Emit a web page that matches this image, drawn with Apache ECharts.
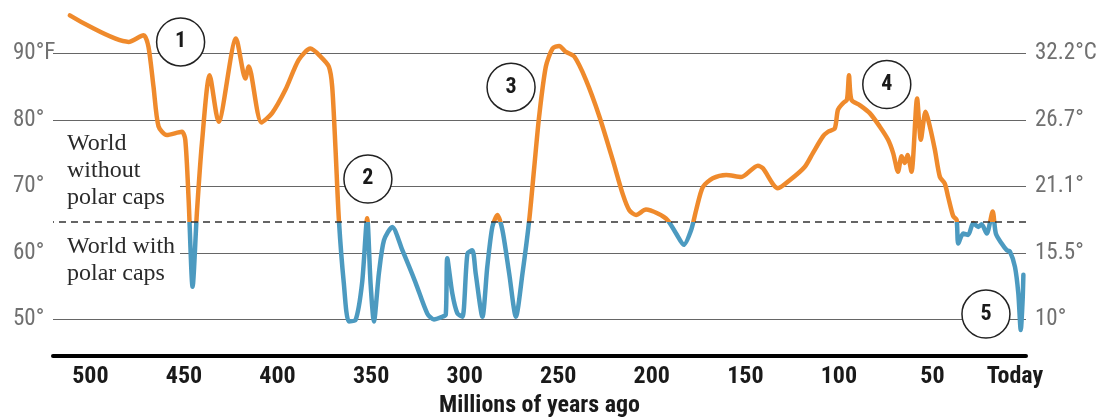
<!DOCTYPE html>
<html><head><meta charset="utf-8">
<script src="https://cdn.jsdelivr.net/npm/echarts@6/dist/echarts.min.js"></script>
<style>html,body{margin:0;padding:0;background:#fff}#c{width:1099px;height:419px}</style>
</head><body><div id="c"></div>
<script>
// Millions of years ago
const ageMa = [511, 479.6, 471.6, 469, 466.3, 463.6, 459.2, 451.1, 449.3, 447.5, 445.4, 443.1, 440.4, 436.3, 431.5, 422.2, 417.2, 415.4, 408.6, 402.9, 395.8, 388.7, 382.4, 377, 372.6, 370.8, 369, 367.2, 364.6, 361.9, 358.3, 354.8, 352.1, 350.3, 348.5, 345.8, 343.1, 338.7, 333.3, 326.2, 320, 316.4, 312, 310.1, 309.3, 306.6, 303.9, 301.2, 298.5, 295.9, 294.1, 290.5, 287.9, 285.2, 282.5, 279.8, 276.2, 272.6, 269.1, 265.5, 262.8, 260.2, 256.6, 253, 249.5, 245.9, 241.4, 235.2, 228, 220.9, 215.6, 212, 208.4, 203.1, 196.8, 191.5, 187, 182.9, 179, 176.3, 172.7, 167.4, 160.2, 152.2, 143.3, 140.6, 132.6, 126.3, 118.3, 113.9, 108.5, 105.8, 102.2, 100.5, 97.8, 95.7, 94.6, 93.3, 88.9, 83.5, 78.2, 73.7, 71, 68.4, 66.5, 64.8, 63.3, 61.2, 58.2, 56.2, 53.7, 51.4, 48.7, 46, 43.4, 41.6, 38.9, 37.1, 36.2, 33.6, 30.9, 28.2, 25.5, 23.7, 21.0, 17.8, 16.1, 13.0, 10.3, 8.6, 5.9, 4.1, 2.8, 1.8, 1.4];
// Global average temperature, °F
const tempF = [95.7, 91.7, 92.7, 91.0, 85.0, 79.0, 77.7, 78.2, 77.0, 67.9, 54.9, 66.0, 76.5, 86.7, 79.7, 92.2, 86.2, 88.0, 79.6, 81.0, 84.5, 89.0, 90.7, 89.5, 88.0, 85.0, 75.5, 64.9, 55.5, 49.7, 49.9, 55.5, 65.2, 55.5, 49.7, 57.0, 61.9, 63.9, 60.4, 55.5, 50.9, 50.0, 50.4, 50.7, 59.2, 53.9, 50.9, 50.4, 59.9, 60.4, 56.9, 50.4, 57.9, 63.9, 65.7, 63.4, 56.9, 50.4, 56.9, 64.9, 72.9, 80.5, 88.0, 90.7, 91.1, 90.2, 89.5, 86.0, 80.5, 74.0, 68.9, 66.4, 65.7, 66.5, 65.9, 64.9, 62.9, 61.2, 63.4, 66.4, 69.9, 71.2, 71.7, 71.4, 73.1, 72.7, 69.7, 70.9, 72.9, 75.0, 77.5, 78.2, 78.7, 81.5, 82.5, 83.0, 86.7, 83.0, 82.2, 81.0, 79.0, 77.0, 75.0, 72.2, 74.5, 73.5, 74.7, 72.2, 83.2, 77.0, 81.2, 79.0, 75.5, 71.4, 70.4, 68.4, 65.5, 65.0, 61.4, 62.9, 62.7, 64.5, 63.9, 64.3, 62.9, 66.2, 62.9, 61.4, 60.4, 60.2, 57.9, 53.9, 48.4, 52.9, 56.7];
const polarCapThreshold = 64.7;
const yTicksF = [50, 60, 70, 80, 90];
const yLabelsF = ['50°', '60°', '70°', '80°', '90°F'];
const yLabelsC = ['10°', '15.5°', '21.1°', '26.7°', '32.2°C'];
const xTickVals = [500, 450, 400, 350, 300, 250, 200, 150, 100, 50, 0];
const xTickLabels = ['500', '450', '400', '350', '300', '250', '200', '150', '100', '50', 'Today'];
const eventLabels = ['1', '2', '3', '4', '5'];
const eventMa = [451.8, 351.7, 275.2, 74.4, 21.4];
const eventF = [91.7, 71.1, 84.9, 85.3, 50.8];

const ORANGE = '#EF8A2C', BLUE = '#4C9AC0';
const NARROW = "'Liberation Sans Narrow','Arial Narrow','Roboto Condensed',Roboto,sans-serif";
const SERIF = "'Liberation Serif','DejaVu Serif',serif";

const chart = echarts.init(document.getElementById('c'));
chart.setOption({
  animation: false,
  grid: { left: 53, right: 73, top: 0, bottom: 63, containLabel: false, outerBoundsMode: 'none' },
  xAxis: {
    type: 'value', min: 0, max: 520, inverse: true,
    axisLine: { lineStyle: { color: '#000', width: 4 } },
    axisTick: { show: false, customValues: xTickVals },
    splitLine: { show: false },
    axisLabel: {
      customValues: xTickVals,
      formatter: v => { const s = xTickLabels[xTickVals.indexOf(v)]; return v === 0 ? '{t|' + s + '}' : s; },
      color: '#1a1a1a', fontFamily: NARROW, fontWeight: 'bold', fontSize: 24, margin: 9,
      rich: { t: { color: '#1a1a1a', fontFamily: NARROW, fontWeight: 'bold', fontSize: 24, padding: [0, 22, 0, 0] } }
    },
    name: 'Millions of years ago', nameLocation: 'middle', nameGap: 38,
    nameTextStyle: { color: '#1a1a1a', fontFamily: NARROW, fontWeight: 'bold', fontSize: 24 }
  },
  yAxis: [{
    type: 'value', min: 44.5, max: 98, position: 'left',
    axisLine: { show: false },
    axisTick: { show: false, customValues: yTicksF },
    axisLabel: { customValues: yTicksF, formatter: v => yLabelsF[yTicksF.indexOf(v)], align: 'left', margin: 40,
      color: '#707070', fontSize: 23, fontFamily: NARROW },
    splitLine: { show: true, lineStyle: { color: '#666', width: 1.2 } }
  }, {
    type: 'value', min: 44.5, max: 98, position: 'right',
    axisLine: { show: false },
    axisTick: { show: false, customValues: yTicksF },
    axisLabel: { customValues: yTicksF, formatter: v => yLabelsC[yTicksF.indexOf(v)], margin: 9,
      color: '#707070', fontSize: 23, fontFamily: NARROW },
    splitLine: { show: false }
  }],
  visualMap: [{
    type: 'piecewise', show: false, seriesIndex: 0, dimension: 1,
    pieces: [{ gte: 0, lt: polarCapThreshold, color: BLUE }, { gte: polarCapThreshold, lte: 200, color: ORANGE }]
  }],
  series: [{
    type: 'line', data: ageMa.map((m, i) => [m, tempF[i]]),
    showSymbol: false, smooth: 0.25, lineStyle: { width: 4.5, cap: 'round', join: 'round' },
    z: 3,
    markLine: {
      silent: true, symbol: ['none', 'none'], label: { show: false },
      lineStyle: { color: '#333', type: [7, 5], width: 1.5 },
      data: [{ yAxis: polarCapThreshold }]
    }
  }, {
    type: 'scatter', data: eventMa.map((m, i) => [m, eventF[i]]),
    symbolSize: 48, z: 5,
    itemStyle: { color: '#fff', borderColor: '#222', borderWidth: 1.5, opacity: 1 },
    label: { show: true, position: 'inside', formatter: p => eventLabels[p.dataIndex],
      color: '#1a1a1a', fontFamily: NARROW, fontWeight: 'bold', fontSize: 22 }
  }],
  graphic: [
    { type: 'rect', left: 53, top: 183, shape: { width: 127, height: 8 }, style: { fill: '#fff' }, z: 10 },
    { type: 'rect', left: 53, top: 249, shape: { width: 127, height: 8 }, style: { fill: '#fff' }, z: 10 },
    { type: 'text', left: 67, top: 130, z: 11, style: { text: 'World\nwithout\npolar caps', fontFamily: SERIF, fontSize: 24, lineHeight: 27, fill: '#2a2a2a' } },
    { type: 'text', left: 67, top: 233, z: 11, style: { text: 'World with\npolar caps', fontFamily: SERIF, fontSize: 24, lineHeight: 27, fill: '#2a2a2a' } }
  ]
});
</script></body></html>
